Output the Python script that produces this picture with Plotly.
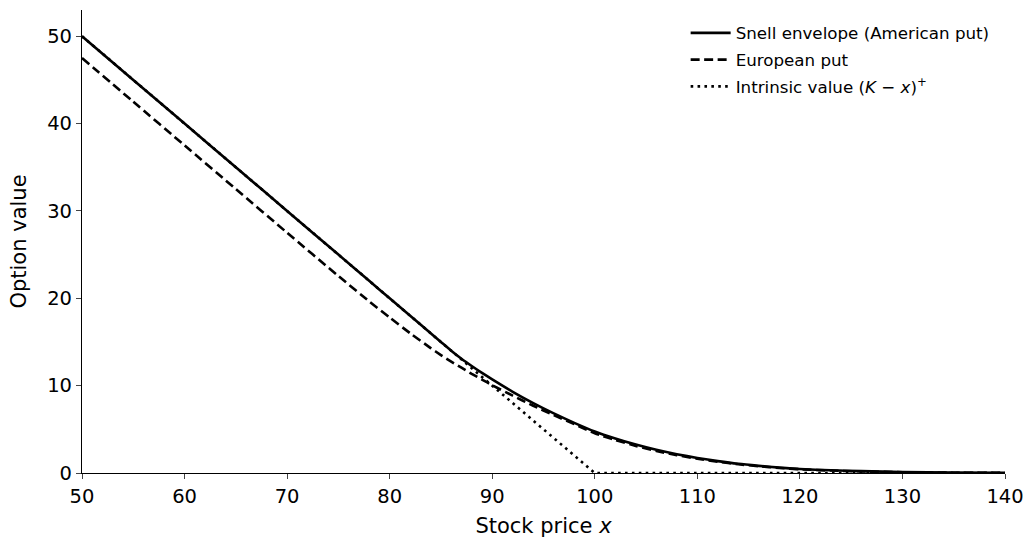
import plotly.graph_objects as go

# Stock prices and values
stock_x = [50, 55, 60, 65, 70, 75, 78, 80, 82, 84, 85, 86, 87, 88, 89, 90, 92, 94, 96, 98,
           100, 102, 104, 106, 108, 110, 112, 114, 116, 118, 120, 123, 126, 130, 135, 140]

american_put = [50.0, 45.0, 40.0, 35.0, 30.0, 25.0, 22.0, 20.0, 18.0, 16.0, 15.0, 14.0, 13.08,
                12.25, 11.46, 10.72, 9.3, 8.0, 6.82, 5.74,
                4.75, 3.95, 3.25, 2.65, 2.15, 1.72, 1.36, 1.05, 0.82, 0.62, 0.45, 0.31, 0.21,
                0.12, 0.05, 0.02]

european_put = [47.5, 42.5, 37.5, 32.5, 27.5, 22.55, 19.65, 17.8, 16.0, 14.3, 13.5, 12.75, 12.05,
                11.35, 10.7, 10.05, 8.85, 7.7, 6.62, 5.6,
                4.55, 3.78, 3.1, 2.52, 2.04, 1.63, 1.29, 1.0, 0.77, 0.58, 0.43, 0.28, 0.18,
                0.09, 0.035, 0.012]

intrinsic_x = [50, 100, 140]
intrinsic_y = [50, 0, 0]

series_names = ["Snell envelope (American put)", "European put",
                "Intrinsic value (<i>K</i> \u2212 <i>x</i>)<sup>+</sup>"]

x_ticks = [50, 60, 70, 80, 90, 100, 110, 120, 130, 140]
y_ticks = [0, 10, 20, 30, 40, 50]

FONT = "DejaVu Sans"

fig = go.Figure()
fig.add_trace(go.Scatter(x=stock_x, y=american_put, mode="lines", name=series_names[0],
                         legendgroup="a",
                         line=dict(color="black", width=2.6, shape="spline", smoothing=0.6)))
fig.add_trace(go.Scatter(x=stock_x, y=european_put, mode="lines", name=series_names[1],
                         legendgroup="b",
                         line=dict(color="black", width=2.6, dash="9px,4.5px",
                                   shape="spline", smoothing=0.6)))
fig.add_trace(go.Scatter(x=intrinsic_x, y=intrinsic_y, mode="lines", name=series_names[2],
                         legendgroup="c",
                         line=dict(color="black", width=2.6, dash="2.6px,4.3px")))

fig.update_layout(
    width=1027, height=540,
    margin=dict(l=82, r=22, t=10, b=67, autoexpand=False),
    paper_bgcolor="white", plot_bgcolor="white",
    font=dict(family=FONT, size=19.5, color="black"),
    showlegend=True,
    legend=dict(x=0.654, y=0.988, xanchor="left", yanchor="top",
                font=dict(family=FONT, size=16.7, color="black"),
                bgcolor="rgba(255,255,255,0)", tracegroupgap=2,
                itemwidth=40),
)
fig.update_xaxes(range=[50, 140], tickvals=x_ticks, ticks="outside", ticklen=5, tickwidth=1.2,
                 showline=True, linecolor="black", linewidth=1.2, showgrid=False, zeroline=False,
                 automargin=False,
                 tickfont=dict(family=FONT, size=19.5),
                 title=dict(text="Stock price <i>x</i>", font=dict(family=FONT, size=21), standoff=11))
fig.update_yaxes(range=[0, 53], tickvals=y_ticks, ticks="outside", ticklen=5, tickwidth=1.2,
                 showline=True, linecolor="black", linewidth=1.2, showgrid=False, zeroline=False,
                 automargin=False,
                 tickfont=dict(family=FONT, size=19.5),
                 title=dict(text="Option value", font=dict(family=FONT, size=21), standoff=14))

# remove the default page margin so the 1027x540 figure fills the window exactly
fig.write_html("out.html", config={"displayModeBar": False},
               post_script="document.body.style.margin='0';")
